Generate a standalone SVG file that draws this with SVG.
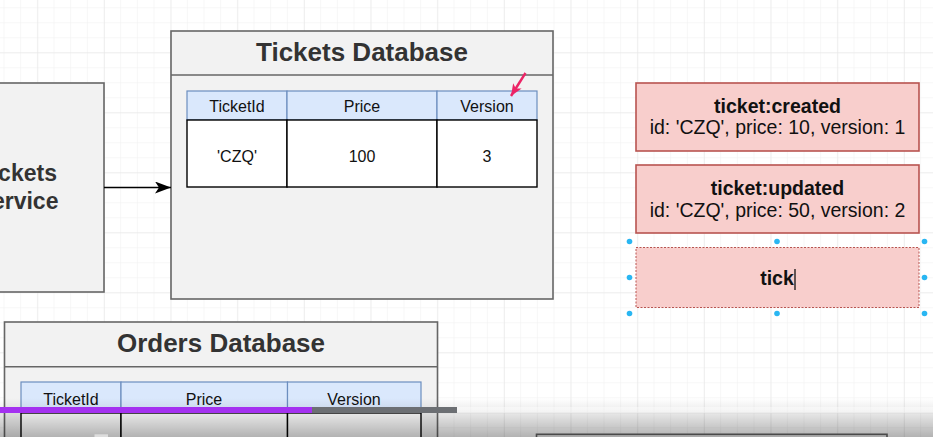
<svg xmlns="http://www.w3.org/2000/svg" width="933" height="437" viewBox="0 0 933 437">
  <style>
    .box{fill:#f2f2f2;stroke:#666666;stroke-width:1.6}
    .title{font-family:"Liberation Sans",Arial,Helvetica,sans-serif;font-weight:bold;fill:#333333;text-anchor:middle}
    .hdr{fill:#dae8fc;stroke:#6c8ebf;stroke-width:1.2}
    .cell{fill:#ffffff;stroke:#000000;stroke-width:1.4}
    .t16{font-family:"Liberation Sans",Arial,Helvetica,sans-serif;font-size:16px;fill:#111111;text-anchor:middle}
    .evt{fill:#f8cecc;stroke:#b85450;stroke-width:1.6}
    .evtb{font-family:"Liberation Sans",Arial,Helvetica,sans-serif;font-size:19.5px;font-weight:bold;fill:#111111;text-anchor:middle}
    .evtr{font-family:"Liberation Sans",Arial,Helvetica,sans-serif;font-size:19.5px;fill:#111111;text-anchor:middle}
    .handle{fill:#29b6f2}
  </style>
  <defs>
    <pattern id="gridMinor" patternUnits="userSpaceOnUse" x="3.5" y="7.3" width="16.667" height="15">
      <path d="M0,0 V15 M0,0 H16.667" fill="none" stroke="#f0f0f0" stroke-width="1"/>
    </pattern>
    <pattern id="gridMajor" patternUnits="userSpaceOnUse" x="37.3" y="52.3" width="66.667" height="60">
      <path d="M0,0 V60 M0,0 H66.667" fill="none" stroke="#e6e6e6" stroke-width="1"/>
    </pattern>
    <marker id="arrowBlack" markerUnits="userSpaceOnUse" markerWidth="16" markerHeight="12" refX="16" refY="6" orient="auto">
      <path d="M0,0 L16,6 L0,12 L4,6 Z" fill="#000000"/>
    </marker>
    <marker id="arrowPink" markerUnits="userSpaceOnUse" markerWidth="12" markerHeight="10" refX="12" refY="5" orient="auto">
      <path d="M0,0 L12,5 L0,10 L3,5 Z" fill="#ec2466"/>
    </marker>
    <linearGradient id="shade" x1="0" y1="0" x2="0" y2="1">
      <stop offset="0" stop-color="#000" stop-opacity="0"/>
      <stop offset="0.35" stop-color="#000" stop-opacity="0.08"/>
      <stop offset="1" stop-color="#000" stop-opacity="0.3"/>
    </linearGradient>
  </defs>

  <rect width="933" height="437" fill="#ffffff"/>
  <rect width="933" height="437" fill="url(#gridMinor)"/>
  <rect width="933" height="437" fill="url(#gridMajor)"/>

  <g id="tickets-service">
    <rect class="box" x="-65" y="83" width="169" height="209"/>
    <text class="title" font-size="23" x="17.5" y="181">Tickets</text>
    <text class="title" font-size="23" x="17.5" y="208.5">Service</text>
  </g>

  <g id="tickets-database">
    <rect class="box" x="171" y="31" width="382" height="268"/>
    <line x1="171" y1="75" x2="553" y2="75" stroke="#666666" stroke-width="1.6"/>
    <text class="title" font-size="26" x="362" y="61">Tickets Database</text>
    <rect class="hdr" x="187" y="91" width="100" height="29"/>
    <rect class="hdr" x="287" y="91" width="150" height="29"/>
    <rect class="hdr" x="437" y="91" width="100" height="29"/>
    <text class="t16" x="237" y="112">TicketId</text>
    <text class="t16" x="362" y="112">Price</text>
    <text class="t16" x="487" y="112">Version</text>
    <rect class="cell" x="187" y="120" width="100" height="67"/>
    <rect class="cell" x="287" y="120" width="150" height="67"/>
    <rect class="cell" x="437" y="120" width="100" height="67"/>
    <text class="t16" x="237" y="162">'CZQ'</text>
    <text class="t16" x="362" y="162">100</text>
    <text class="t16" x="487" y="162">3</text>
  </g>

  <g id="ticket-created">
    <rect class="evt" x="636" y="83" width="283" height="68"/>
    <text class="evtb" x="777.5" y="113">ticket:created</text>
    <text class="evtr" x="777.5" y="134">id: 'CZQ', price: 10, version: 1</text>
  </g>

  <g id="ticket-updated">
    <rect class="evt" x="636" y="165" width="283" height="68"/>
    <text class="evtb" x="777.5" y="195">ticket:updated</text>
    <text class="evtr" x="777.5" y="217">id: 'CZQ', price: 50, version: 2</text>
  </g>

  <g id="ticket-new">
    <rect x="636" y="247.5" width="283" height="60" fill="#f8cecc" stroke="#b85450" stroke-width="1" stroke-dasharray="2 1.5"/>
    <text class="evtb" x="777" y="285">tick</text>
    <line x1="795" y1="269" x2="795" y2="290" stroke="#000000" stroke-width="1.2"/>
    <circle class="handle" cx="629.5" cy="241.5" r="2.8"/>
    <circle class="handle" cx="777" cy="241.5" r="2.8"/>
    <circle class="handle" cx="924.5" cy="241.5" r="2.8"/>
    <circle class="handle" cx="629.5" cy="277.5" r="2.8"/>
    <circle class="handle" cx="924.5" cy="277.5" r="2.8"/>
    <circle class="handle" cx="629.5" cy="313.5" r="2.8"/>
    <circle class="handle" cx="777" cy="313.5" r="2.8"/>
    <circle class="handle" cx="924.5" cy="313.5" r="2.8"/>
  </g>

  <g id="orders-database">
    <rect class="box" x="4.5" y="322" width="433" height="140"/>
    <line x1="4.5" y1="366.7" x2="437.5" y2="366.7" stroke="#666666" stroke-width="1.6"/>
    <text class="title" font-size="26" x="221" y="352">Orders Database</text>
    <rect class="hdr" x="21" y="382" width="100" height="31"/>
    <rect class="hdr" x="121" y="382" width="166.5" height="31"/>
    <rect class="hdr" x="287.5" y="382" width="133.5" height="31"/>
    <text class="t16" x="71" y="405">TicketId</text>
    <text class="t16" x="204" y="405">Price</text>
    <text class="t16" x="354" y="405">Version</text>
    <rect class="cell" x="21" y="413" width="100" height="40"/>
    <rect class="cell" x="121" y="413" width="166.5" height="40"/>
    <rect class="cell" x="287.5" y="413" width="133.5" height="40"/>
  </g>

  <g id="bottom-box">
    <rect class="box" x="536.5" y="434.3" width="350.5" height="20"/>
  </g>

  <g id="connectors">
    <line x1="104" y1="187.5" x2="171" y2="187.5" stroke="#000000" stroke-width="1.4" marker-end="url(#arrowBlack)"/>
    <line x1="525.5" y1="73" x2="511" y2="96" stroke="#ec2466" stroke-width="2.4" marker-end="url(#arrowPink)"/>
  </g>

  <g id="player-overlay">
    <rect x="0" y="398" width="933" height="39" fill="url(#shade)"/>
    <rect x="0" y="407" width="933" height="6" fill="#ffffff" fill-opacity="0.45"/>
    <rect x="0" y="407" width="312" height="6" fill="#a431f0"/>
    <rect x="312" y="407" width="145" height="6" fill="#6c6f73"/>
    <rect x="94.5" y="434.3" width="13.5" height="3" fill="#dddddd"/>
  </g>
</svg>
